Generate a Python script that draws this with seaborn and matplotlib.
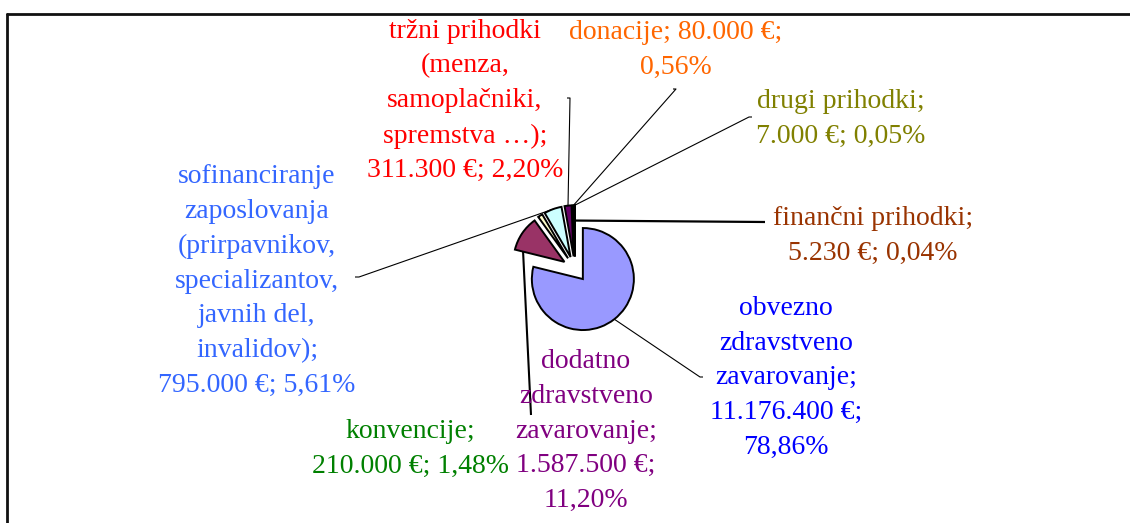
import numpy as np
import matplotlib.pyplot as plt
import seaborn as sns

sns.set_theme(style="white")
plt.rcParams['font.family'] = ['Liberation Serif', 'DejaVu Serif']

# data: revenue sources (EUR)
categories = ["obvezno zdravstveno zavarovanje", "dodatno zdravstveno zavarovanje",
              "konvencije", "sofinanciranje zaposlovanja", "tržni prihodki",
              "donacije", "drugi prihodki", "finančni prihodki"]
amounts = [11176400, 1587500, 210000, 795000, 311300, 80000, 7000, 5230]

label_templates = [
    "obvezno\nzdravstveno\nzavarovanje;\n{v};\n{p}",
    "dodatno\nzdravstveno\nzavarovanje;\n{v};\n{p}",
    "konvencije;\n{v}; {p}",
    "sofinanciranje\nzaposlovanja\n(prirpavnikov,\nspecializantov,\njavnih del,\ninvalidov);\n{v}; {p}",
    "tržni prihodki\n(menza,\nsamoplačniki,\nspremstva …);\n{v}; {p}",
    "donacije; {v};\n{p}",
    "drugi prihodki;\n{v}; {p}",
    "finančni prihodki;\n{v}; {p}",
]
slice_colors = ["#9999FF", "#993366", "#FFFFCC", "#CCFFFF",
                "#660066", "#FF8080", "#0066CC", "#CCCCFF"]
text_colors = ["#0000FF", "#800080", "#008000", "#3366FF",
               "#FF0000", "#FF6600", "#808000", "#993300"]

# label layout (pixel positions in the figure)
label_pos = [(786, 378), (586, 431), (410, 449), (257, 281),
             (465, 101), (676, 50), (841, 119), (873, 236)]
leader_ends = [[(703, 377), (700, 377)],
               [(531, 415)],
               None,
               [(355, 277), (359, 277)],
               [(567, 98), (570, 98)],
               [(673, 89), (676, 89)],
               [(752, 117), (749, 117)],
               [(765, 222)]]
leader_depth = [1, 1, 1, 1, 1, 1, 1, 0.7]
leader_width = [0.8, 1.5, 0.8, 0.8, 0.8, 0.8, 0.8, 1.6]


def fmt_eur(v):
    return f"{v:,}".replace(",", ".") + " €"


def fmt_pct(p):
    return f"{p:.2f}".replace(".", ",") + "%"


W, H = 1130, 523
fig = plt.figure(figsize=(W / 100, H / 100), dpi=100)
ax = fig.add_axes([0, 0, 1, 1])

radius = 51
wedges, _ = ax.pie(amounts, colors=slice_colors, startangle=-90, counterclock=True,
                   radius=radius, center=(575, 269), explode=[0.25 * radius] * len(amounts),
                   wedgeprops=dict(edgecolor="black", linewidth=1.4))
for w in wedges:
    w.set_zorder(3)

ax.set_xlim(0, W)
ax.set_ylim(H, 0)
ax.set_aspect("equal")
ax.axis("off")

total = sum(amounts)
for i, w in enumerate(wedges):
    pct = amounts[i] / total * 100
    txt = label_templates[i].format(v=fmt_eur(amounts[i]), p=fmt_pct(pct))
    ax.text(label_pos[i][0], label_pos[i][1], txt, color=text_colors[i], fontsize=20,
            ha="center", va="center", multialignment="center", linespacing=1.52, zorder=4)
    if leader_ends[i] is None:
        continue
    m = np.deg2rad((w.theta1 + w.theta2) / 2)
    cx, cy = w.center
    ax_pt = (cx + leader_depth[i] * w.r * np.cos(m), cy + leader_depth[i] * w.r * np.sin(m))
    pts = leader_ends[i] + [ax_pt]
    ax.plot([p[0] for p in pts], [p[1] for p in pts], color="black",
            lw=leader_width[i], zorder=2, solid_capstyle="butt")

# frame of the chart area
ax.plot([7, W], [13.5, 13.5], color="#111111", lw=2.0, clip_on=False)
ax.plot([7, 7], [13.5, H], color="#111111", lw=2.0, clip_on=False)

fig.savefig("out.png", dpi=100)
